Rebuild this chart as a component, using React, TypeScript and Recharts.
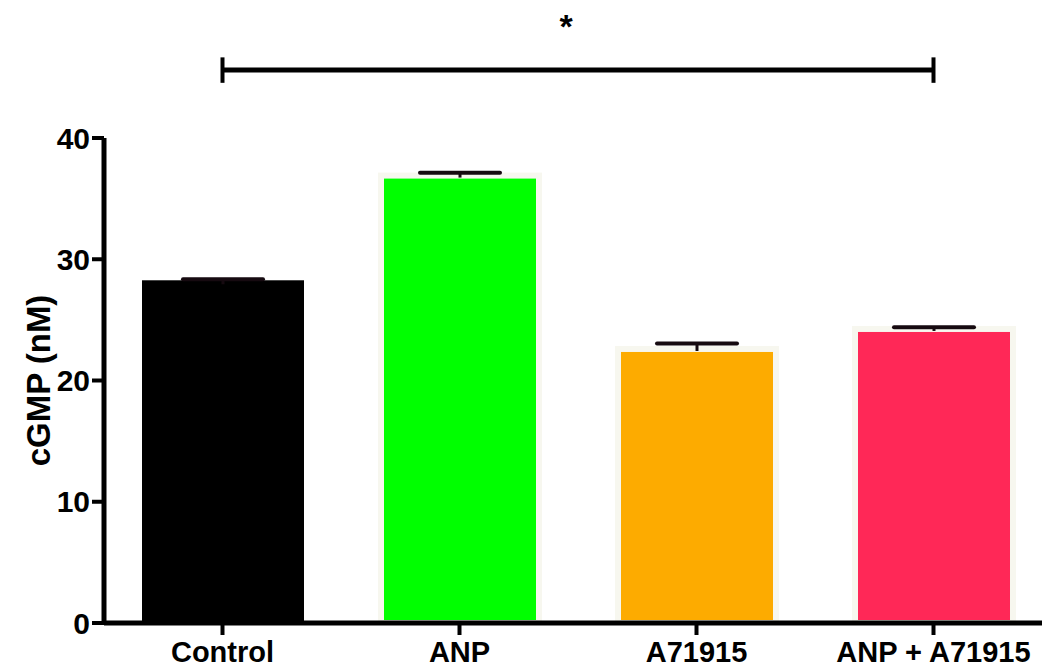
import React from 'react';
import { BarChart, Bar, XAxis, YAxis, Cell, ReferenceLine } from 'recharts';

const categories = ['Control', 'ANP', 'A71915', 'ANP + A71915'];
const means = [28.1, 36.9, 22.6, 24.25];
const sems = [0.25, 0.23, 0.45, 0.15];
const colors = ['#000000', '#00FF00', '#FDAB00', '#FF2857'];
const yTicks = [0, 10, 20, 30, 40];
const sigLevel = 45.6;
const sigCap = 1.05;
const sigFrom = 'Control';
const sigTo = 'ANP + A71915';
const sigMark = '*';

const data = categories.map((name, i) => ({ name, value: means[i], sem: sems[i] }));

const FONT = '"Liberation Sans", Arial, Helvetica, sans-serif';

const BarWithError = (props: any) => {
  const { x, y, width, height, fill, stroke, strokeWidth, payload } = props;
  const pxPerUnit = payload.value ? height / payload.value : 0;
  const capY = y - payload.sem * pxPerUnit;
  const cx = x + width / 2;
  const capHalf = 40;
  return (
    <g>
      <rect x={x} y={y} width={width} height={height} fill={fill} stroke={stroke} strokeWidth={strokeWidth} />
      <line x1={cx} x2={cx} y1={capY} y2={y + 2} stroke="#160A10" strokeWidth={3} />
      <line x1={cx - capHalf} x2={cx + capHalf} y1={capY} y2={capY} stroke="#160A10" strokeWidth={4} strokeLinecap="round" />
    </g>
  );
};

export default function App() {
  return (
    <div style={{ position: 'absolute', left: 0, top: 0, width: 1042, height: 671, overflow: 'hidden', background: '#fff' }}>
      <BarChart
        width={1052}
        height={671}
        data={data}
        margin={{ top: 138, right: 0, bottom: 0, left: 0 }}
        barCategoryGap={0}
      >
        <XAxis
          dataKey="name"
          height={48}
          axisLine={{ stroke: '#000', strokeWidth: 5 }}
          tickLine={{ stroke: '#000', strokeWidth: 4 }}
          tickSize={12}
          tickMargin={6}
          interval={0}
          tick={{ fill: '#000', fontSize: 29, fontWeight: 700, fontFamily: FONT }}
        />
        <YAxis
          width={104}
          domain={[0, 40]}
          ticks={yTicks}
          allowDataOverflow
          axisLine={{ stroke: '#000', strokeWidth: 5 }}
          tickLine={{ stroke: '#000', strokeWidth: 4 }}
          tickSize={12}
          tickMargin={2}
          tick={{ fill: '#000', fontSize: 30, fontWeight: 700, fontFamily: FONT }}
          label={{
            value: 'cGMP (nM)',
            angle: -90,
            position: 'insideLeft',
            offset: 38,
            style: { textAnchor: 'middle', fill: '#000', fontSize: 33, fontWeight: 700, fontFamily: FONT },
          }}
        />
        <Bar dataKey="value" barSize={158} isAnimationActive={false} shape={BarWithError}>
          {data.map((d, i) => (
            <Cell
              key={d.name}
              fill={colors[i]}
              stroke={i === 0 ? '#000' : '#F7F7EF'}
              strokeWidth={i === 0 ? 4 : 6}
            />
          ))}
        </Bar>
        <ReferenceLine
          ifOverflow="visible"
          segment={[{ x: sigFrom, y: sigLevel }, { x: sigTo, y: sigLevel }]}
          stroke="#000"
          strokeWidth={5}
          label={{ value: sigMark, position: 'top', offset: 32, dx: -12, fill: '#000', fontSize: 34, fontWeight: 700, fontFamily: FONT }}
        />
        <ReferenceLine
          ifOverflow="visible"
          segment={[{ x: sigFrom, y: sigLevel - sigCap }, { x: sigFrom, y: sigLevel + sigCap }]}
          stroke="#000"
          strokeWidth={4}
        />
        <ReferenceLine
          ifOverflow="visible"
          segment={[{ x: sigTo, y: sigLevel - sigCap }, { x: sigTo, y: sigLevel + sigCap }]}
          stroke="#000"
          strokeWidth={4}
        />
      </BarChart>
    </div>
  );
}
